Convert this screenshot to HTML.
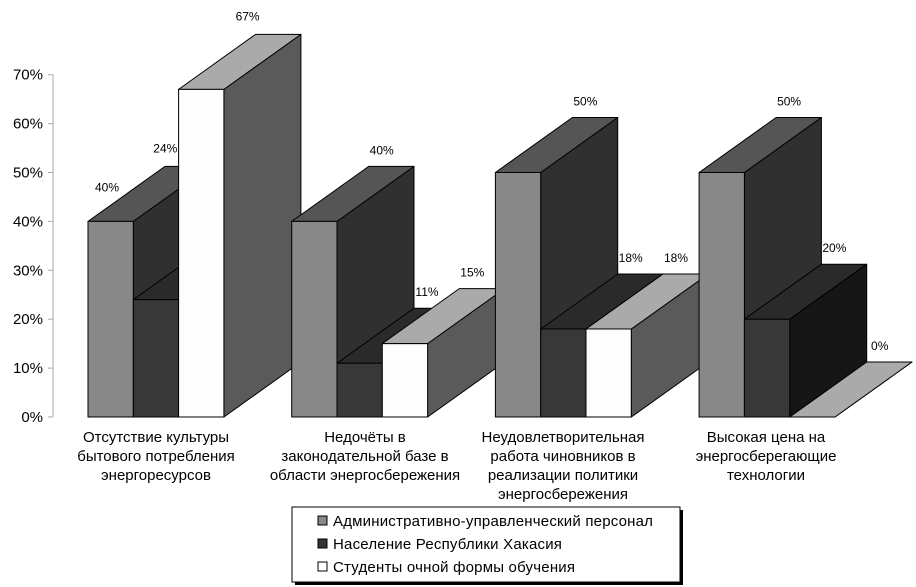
<!DOCTYPE html>
<html><head><meta charset="utf-8"><style>
html,body{margin:0;padding:0;background:#fff;}
svg{display:block;font-family:"Liberation Sans","DejaVu Sans",sans-serif;}
</style></head><body>
<svg id="chart" width="916" height="587" viewBox="0 0 916 587" xmlns="http://www.w3.org/2000/svg">
<g id="axis"></g>
<g id="bars"></g>
<g id="labels"></g>
<g id="cats"></g>
<g>
<rect x="295" y="510" width="388" height="75" fill="#000"/>
<rect x="292" y="507" width="388" height="75" fill="#fff" stroke="#000" stroke-width="1"/>
<g><rect x="318" y="516" width="9" height="9" fill="#888" stroke="#000"/><text x="333" y="526" font-size="15" letter-spacing="0.2">Административно-управленческий персонал</text></g>
<g><rect x="318" y="539" width="9" height="9" fill="#333" stroke="#000"/><text x="333" y="549" font-size="15" letter-spacing="0.2">Население Республики Хакасия</text></g>
<g><rect x="318" y="562" width="9" height="9" fill="#fff" stroke="#000"/><text x="333" y="572" font-size="15" letter-spacing="0.2">Студенты очной формы обучения</text></g>
</g>
</svg>
<script>
const categories = [
  ["Отсутствие культуры","бытового потребления","энергоресурсов"],
  ["Недочёты в","законодательной базе в","области энергосбережения"],
  ["Неудовлетворительная","работа чиновников в","реализации политики","энергосбережения"],
  ["Высокая цена на","энергосберегающие","технологии"]
];
const seriesAdmin = [40, 40, 50, 50];
const seriesPopulation = [24, 11, 18, 20];
const seriesStudents = [67, 15, 18, 0];
const yTicks = [0,10,20,30,40,50,60,70];

const NS = "http://www.w3.org/2000/svg";
const y0 = 417, pxPer = 48.9, x0 = 88, groupW = 203.7, barW = 45.3, DX = 77, DY = -55;
const yScale = v => y0 - v * pxPer / 10;
const xScale = (g, s) => x0 + g * groupW + s * barW;
const colors = [
  {front:"#888", top:"#555", side:"#303030"},
  {front:"#383838", top:"#2a2a2a", side:"#161616"},
  {front:"#fdfdfd", top:"#aaa", side:"#5a5a5a"}
];
const series = [seriesAdmin, seriesPopulation, seriesStudents];
const names = ["admin","population","students"];
function mk(tag, attrs, parent){const e=document.createElementNS(NS,tag);for(const k in attrs)e.setAttribute(k,attrs[k]);parent.appendChild(e);return e;}

const axis = document.getElementById('axis');
mk('line',{x1:53,y1:yScale(0),x2:53,y2:yScale(70),stroke:"#aaa","stroke-width":1},axis);
yTicks.forEach(t=>{
  const y=yScale(t);
  mk('line',{x1:48,y1:y,x2:53,y2:y,stroke:"#aaa"},axis);
  const tx=mk('text',{x:43,y:y+5,"text-anchor":"end","font-size":15,fill:"#000"},axis);
  tx.textContent=t+"%";
  
  
});

const bars=document.getElementById('bars');
const labels=document.getElementById('labels');
const labelOff = [[[19,-35],[32,-152],[69,-74]]];
for(let g=0; g<4; g++){
  for(let s=0; s<3; s++){
    const v=series[s][g], xl=xScale(g,s), xr=xl+barW, yt=yScale(v), yb=y0;
    const c=colors[s];
    const grp=mk('g',{},bars);
    
    
    mk('polygon',{points:`${xr},${yb} ${xr+DX},${yb+DY} ${xr+DX},${yt+DY} ${xr},${yt}`,fill:c.side,stroke:"#000","stroke-width":1,"stroke-linejoin":"round"},grp);
    mk('polygon',{points:`${xl},${yt} ${xl+DX},${yt+DY} ${xr+DX},${yt+DY} ${xr},${yt}`,fill:c.top,stroke:"#000","stroke-width":1,"stroke-linejoin":"round"},grp);
    if(v>0) mk('rect',{x:xl,y:yt,width:barW,height:yb-yt,fill:c.front,stroke:"#000","stroke-width":1},grp);
    const off=(labelOff[g]&&labelOff[g][s])||[90,-72];
    const lt=mk('text',{x:xl+off[0],y:yt+off[1]+5,"text-anchor":"middle","font-size":12,fill:"#000"},labels);
    lt.textContent=v+"%";
    
    
  }
}
const cats=document.getElementById('cats');
const catCenters=[156,365,563,766];
categories.forEach((lines,g)=>{
  const t=mk('text',{"text-anchor":"middle","font-size":15,fill:"#000"},cats);
  
  
  lines.forEach((ln,i)=>{const sp=mk('tspan',{x:catCenters[g],y:442+i*19},t);sp.textContent=ln;});
});
</script>
</body></html>
